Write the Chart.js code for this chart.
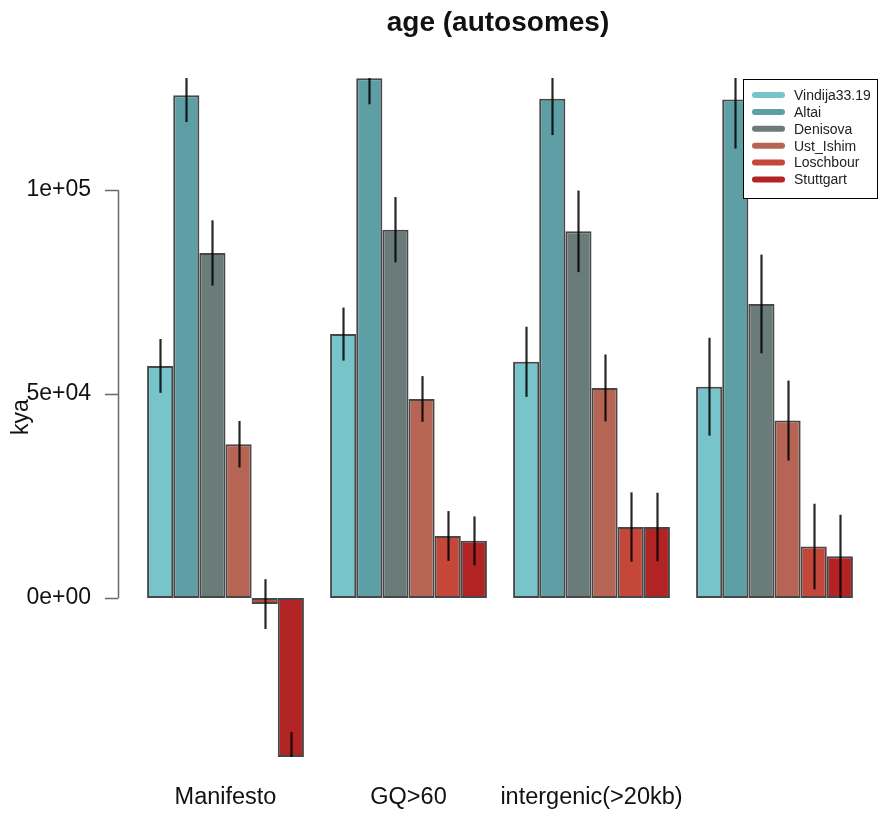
<!DOCTYPE html>
<html>
<head>
<meta charset="utf-8">
<title>age (autosomes)</title>
<script src="https://cdn.jsdelivr.net/npm/chart.js@4.4.1/dist/chart.umd.min.js"></script>
<style>
  html, body { margin: 0; padding: 0; background: #fff; }
  #wrap { width: 880px; height: 816px; }
</style>
</head>
<body>
<div id="wrap"><canvas id="age-chart" width="880" height="816"></canvas></div>
<script>
// ---- data ----
const groups = ['Manifesto', 'GQ>60', 'intergenic(>20kb)', ''];
const samples = ['Vindija33.19', 'Altai', 'Denisova', 'Ust_Ishim', 'Loschbour', 'Stuttgart'];

const vindija   = [56900, 64700, 57900, 51800];
const altai     = [123300, 127450, 122400, 122200];
const denisova  = [84600, 90300, 89900, 72100];
const ustIshim  = [37700, 48800, 51500, 43500];
const loschbour = [-1500, 15200, 17400, 12600];
const stuttgart = [-39000, 14000, 17400, 10200];

// half-length of the error bars
const vindijaErr   = [6600, 6500, 8600, 12000];
const altaiErr     = [6600, 6400, 8900, 12000];
const denisovaErr  = [8000, 8000, 10000, 12100];
const ustIshimErr  = [5700, 5600, 8200, 9800];
const loschbourErr = [6100, 6100, 8500, 10500];
const stuttgartErr = [6100, 6000, 8400, 10200];

const yTicks = [0, 50000, 100000];
const yTickLabels = ['0e+00', '5e+04', '1e+05'];

const colors = ['#78c4cb', '#5e9ea5', '#6a7c7a', '#b66453', '#c4473a', '#b22323'];

const FONT = "'Liberation Sans', Arial, Helvetica, sans-serif";

const seriesValues = [vindija, altai, denisova, ustIshim, loschbour, stuttgart];
const seriesErrors = [vindijaErr, altaiErr, denisovaErr, ustIshimErr, loschbourErr, stuttgartErr];

// ---- error bars, clipped to the plot region like R does ----
const errorBars = {
  id: 'errorBars',
  afterDatasetsDraw(chart) {
    const { ctx, chartArea: a, scales: { y } } = chart;
    ctx.save();
    ctx.beginPath();
    ctx.rect(a.left, a.top, a.right - a.left, a.bottom - a.top);
    ctx.clip();
    ctx.strokeStyle = 'rgba(0,0,0,0.85)';
    ctx.lineWidth = 2.2;
    chart.data.datasets.forEach((ds, i) => {
      const meta = chart.getDatasetMeta(i);
      meta.data.forEach((bar, j) => {
        const v = ds.data[j], e = seriesErrors[i][j];
        ctx.beginPath();
        ctx.moveTo(Math.round(bar.x) + 0.5, y.getPixelForValue(v + e));
        ctx.lineTo(Math.round(bar.x) + 0.5, y.getPixelForValue(v - e));
        ctx.stroke();
      });
    });
    ctx.restore();
  }
};

// ---- R style axis, labels, title and legend ----
const rDecor = {
  id: 'rDecor',
  afterDraw(chart) {
    const { ctx, scales: { x, y } } = chart;
    ctx.save();

    // y axis: line from first to last tick, ticks pointing left
    const axisX = 118.5;
    ctx.strokeStyle = '#6a6a6a';
    ctx.lineWidth = 1.5;
    ctx.beginPath();
    ctx.moveTo(axisX, y.getPixelForValue(yTicks[0]));
    ctx.lineTo(axisX, y.getPixelForValue(yTicks[yTicks.length - 1]));
    yTicks.forEach(t => {
      const py = Math.round(y.getPixelForValue(t)) + 0.5;
      ctx.moveTo(axisX, py);
      ctx.lineTo(105, py);
    });
    ctx.stroke();

    ctx.fillStyle = '#111';
    ctx.font = `23px ${FONT}`;
    ctx.textAlign = 'right';
    ctx.textBaseline = 'middle';
    yTicks.forEach((t, i) => ctx.fillText(yTickLabels[i], 91, y.getPixelForValue(t)));

    // y axis title
    ctx.save();
    ctx.translate(22, 417);
    ctx.rotate(-Math.PI / 2);
    ctx.textAlign = 'center';
    ctx.fillText('kya', 0, 0);
    ctx.restore();

    // group labels
    ctx.font = `23.5px ${FONT}`;
    ctx.textAlign = 'center';
    groups.forEach((g, i) => ctx.fillText(g, x.getPixelForValue(i), 798));

    // title
    ctx.font = `bold 28px ${FONT}`;
    ctx.fillText('age (autosomes)', 498, 23);

    // legend
    const lx = 743.5, ly = 79.5, lw = 134, lh = 119;
    ctx.fillStyle = '#fff';
    ctx.fillRect(lx, ly, lw, lh);
    ctx.strokeStyle = '#000';
    ctx.lineWidth = 1;
    ctx.strokeRect(lx, ly, lw, lh);
    ctx.font = `14px ${FONT}`;
    ctx.textAlign = 'left';
    ctx.lineCap = 'round';
    samples.forEach((s, i) => {
      const ey = 95 + i * 16.9;
      ctx.strokeStyle = colors[i];
      ctx.lineWidth = 6;
      ctx.beginPath();
      ctx.moveTo(755, ey);
      ctx.lineTo(782, ey);
      ctx.stroke();
      ctx.fillStyle = '#222';
      ctx.fillText(s, 794, ey + 1);
    });

    ctx.restore();
  }
};

new Chart(document.getElementById('age-chart'), {
  type: 'bar',
  data: {
    labels: groups,
    datasets: samples.map((s, i) => ({
      label: s,
      data: seriesValues[i],
      backgroundColor: colors[i],
      borderColor: 'rgba(0,0,0,0.72)',
      borderWidth: 2,
      borderSkipped: false,
      categoryPercentage: 6 / 7,
      barPercentage: 1,
    })),
  },
  options: {
    responsive: false,
    animation: false,
    layout: { padding: { left: 134, right: 14, top: 78, bottom: 59 } },
    plugins: {
      legend: { display: false },
      title: { display: false },
      tooltip: { enabled: false },
    },
    scales: {
      x: { display: false, offset: true },
      y: { display: false, min: -39000, max: 127500 },
    },
  },
  plugins: [errorBars, rDecor],
});
</script>
</body>
</html>
